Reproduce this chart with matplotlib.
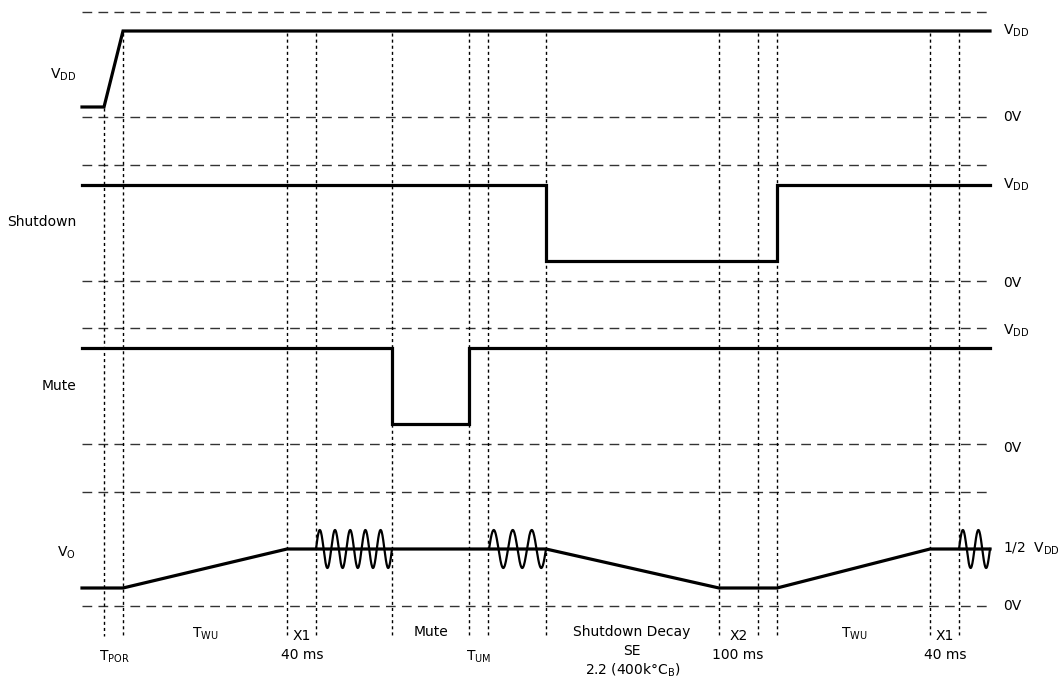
import numpy as np
import matplotlib
matplotlib.use("Agg")
import matplotlib.pyplot as plt

# --- datos del diagrama de tiempos (coordenadas en px de la figura) ---
t_marks = [104, 123, 287, 316, 392, 469, 488, 546, 719, 758, 777, 930, 959]
t_mark_top = [108] + [33] * 12
grid_levels = [12, 117, 165, 281, 328, 444, 492, 606]

vdd_t = [82, 104, 123, 990]
vdd_y = [107, 107, 31, 31]
sd_t = [82, 546, 546, 777, 777, 990]
sd_y = [185, 185, 261, 261, 185, 185]
mute_t = [82, 392, 392, 469, 469, 990]
mute_y = [348, 348, 424, 424, 348, 348]
vo_t = [82, 123, 287, 546, 719, 777, 930, 990]
vo_y = [588, 588, 549, 549, 588, 588, 549, 549]

# rafagas senoidales: inicio, fin, ciclos
bursts = [(316, 392, 5), (489, 546, 3), (959, 990, 2)]
burst_level = 549
burst_amp = 19

left_labels = ["V$_\\mathregular{DD}$", "Shutdown", "Mute", "V$_\\mathregular{O}$"]
left_y = [75, 222, 386, 553]
right_labels = ["V$_\\mathregular{DD}$", "0V", "V$_\\mathregular{DD}$", "0V",
                "V$_\\mathregular{DD}$", "0V", "1/2  V$_\\mathregular{DD}$", "0V"]
right_y = [31, 117, 185, 283, 331, 448, 549, 606]

bottom_labels = ["T$_\\mathregular{POR}$", "T$_\\mathregular{WU}$", "X1", "40 ms", "Mute",
                 "T$_\\mathregular{UM}$", "Shutdown Decay", "SE", "2.2 (400k°C$_\\mathregular{B}$)",
                 "X2", "100 ms", "T$_\\mathregular{WU}$", "X1", "40 ms"]
bottom_x = [114, 205, 302, 302, 431, 479, 632, 632, 633, 739, 738, 854, 945, 945]
bottom_y = [657, 634, 636, 655, 632, 657, 632, 651, 670, 636, 655, 634, 636, 655]

fig = plt.figure(figsize=(10.63, 6.82), dpi=100)
ax = fig.add_axes([0, 0, 1, 1])
ax.set_xlim(0, 1063)
ax.set_ylim(682, 0)
ax.axis("off")

# rejilla horizontal discontinua
for y in grid_levels:
    ax.plot([82, 990], [y, y], color="0.2", lw=1.0, dashes=(7, 4.5))

# marcas verticales punteadas
for x, top in zip(t_marks, t_mark_top):
    ax.plot([x, x], [top, 636], color="black", lw=1.0, dashes=(2.2, 2.2))

# señales
for t, y in [(vdd_t, vdd_y), (sd_t, sd_y), (mute_t, mute_y), (vo_t, vo_y)]:
    ax.plot(t, y, color="black", lw=2.3, solid_joinstyle="miter")

for x0, x1, n in bursts:
    xs = np.linspace(x0, x1, 200)
    ys = burst_level - burst_amp * np.sin(2 * np.pi * n * (xs - x0) / (x1 - x0))
    ax.plot(xs, ys, color="black", lw=1.6)

fs = 10
for s, y in zip(left_labels, left_y):
    ax.text(76, y, s, ha="right", va="center", fontsize=fs)
for s, y in zip(right_labels, right_y):
    ax.text(1003, y, s, ha="left", va="center", fontsize=fs)
for s, x, y in zip(bottom_labels, bottom_x, bottom_y):
    ax.text(x, y, s, ha="center", va="center", fontsize=fs)

fig.savefig("out.png", dpi=100)
